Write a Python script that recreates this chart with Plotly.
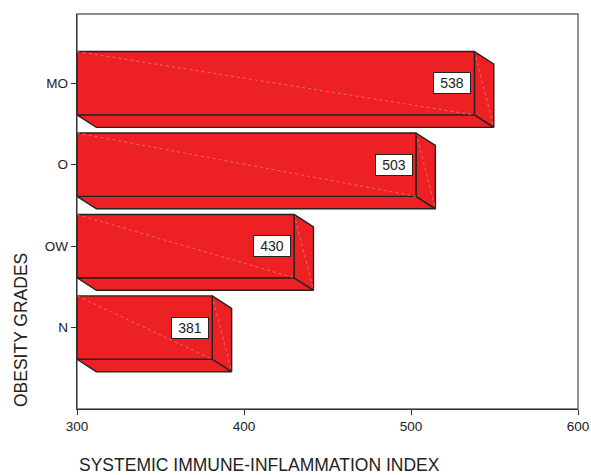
import plotly.graph_objects as go

# Mean systemic immune-inflammation index by obesity grade
categories = ["N", "OW", "O", "MO"]
sii_values = [381, 430, 503, 538]

x_min, x_max = 300, 600
y_range = [-1.0, 3.85]

RED = "#ED2024"
EDGE = "#232323"
STREAK = "rgba(255,170,170,0.75)"
FONT = "Arial, Liberation Sans, sans-serif"

half = 0.389      # half thickness of a bar (category units)
dx = 11.6         # depth offset along x (data units)
dy = 0.153        # depth offset along y (category units)

fig = go.Figure()


def poly(xs, ys, fill=RED):
    fig.add_trace(go.Scatter(
        x=xs + [xs[0]], y=ys + [ys[0]], mode="lines", fill="toself",
        fillcolor=fill, line=dict(color=EDGE, width=1.4),
        hoverinfo="skip", showlegend=False))


def streak(xs, ys):
    fig.add_trace(go.Scatter(
        x=xs, y=ys, mode="lines",
        line=dict(color=STREAK, width=0.7, dash="dot"),
        hoverinfo="skip", showlegend=False))


for i, (cat, v) in enumerate(zip(categories, sii_values)):
    top, bot = i + half, i - half
    # bottom face (depth below the bar)
    poly([x_min, v, v + dx, x_min + dx], [bot, bot, bot - dy, bot - dy])
    # right end face
    poly([v, v + dx, v + dx, v], [top, top - dy, bot - dy, bot])
    streak([v, v + dx], [top, bot - dy])
    # front face
    poly([x_min, v, v, x_min], [top, top, bot, bot])
    streak([x_min, v], [top, bot])

    fig.add_annotation(
        x=v, y=i, xref="x", yref="y", text=str(v), showarrow=False,
        xanchor="right", yanchor="middle", xshift=-3,
        width=34, height=18, borderpad=1, borderwidth=1,
        bordercolor=EDGE, bgcolor="white",
        font=dict(family=FONT, size=14, color="#222"))

# axis titles
fig.add_annotation(
    x=0, y=-0.143, xref="paper", yref="paper",
    text="SYSTEMIC IMMUNE-INFLAMMATION INDEX", showarrow=False,
    xanchor="left", yanchor="middle",
    font=dict(family=FONT, size=17.5, color="#222"))
fig.add_annotation(
    x=-0.1117, y=0, xref="paper", yref="paper",
    text="OBESITY GRADES", showarrow=False, textangle=-90,
    xanchor="center", yanchor="bottom",
    font=dict(family=FONT, size=17.5, color="#222"))

# plot frame
fig.add_shape(type="rect", xref="paper", yref="paper", x0=0, y0=0, x1=1, y1=1,
              line=dict(color="#666", width=1.4), layer="below")

fig.update_xaxes(
    range=[x_min, x_max], tickvals=[300, 400, 500, 600], automargin=False,
    showgrid=False, zeroline=False, showline=True, linecolor="#333",
    linewidth=1.4, ticks="outside", ticklen=5, tickcolor="#333",
    tickfont=dict(family=FONT, size=13.5, color="#222"))
fig.update_yaxes(
    range=y_range, tickvals=list(range(len(categories))), ticktext=categories,
    automargin=False,
    showgrid=False, zeroline=False, showline=True, linecolor="#333",
    linewidth=1.4, ticks="outside", ticklen=5, tickcolor="#333",
    tickfont=dict(family=FONT, size=13.5, color="#222"))

fig.update_layout(
    width=591, height=475,
    margin=dict(l=77, r=12.5, t=14, b=66),
    paper_bgcolor="white", plot_bgcolor="white",
    showlegend=False)

fig.write_html("out.html")
